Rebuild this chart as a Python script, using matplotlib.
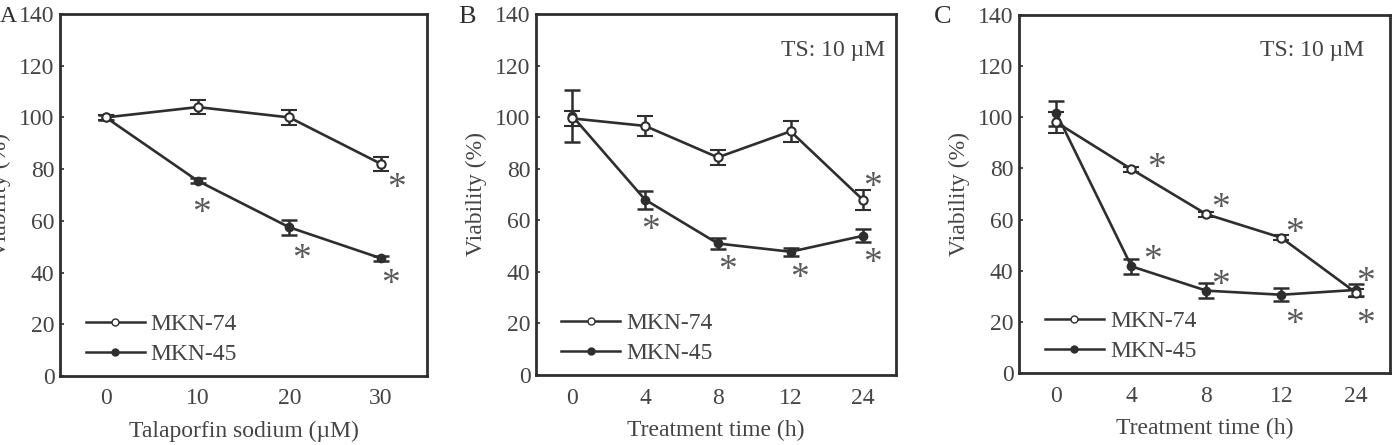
import matplotlib
matplotlib.use("Agg")
import matplotlib.pyplot as plt
from matplotlib.lines import Line2D

plt.rcParams['font.family'] = ['Liberation Serif', 'DejaVu Serif']

# ---- data ----
a_labels = ["0", "10", "20", "30"]
a_mkn74 = [100, 104, 100, 82]
a_mkn74_err = [1, 2.6, 2.8, 2.8]
a_mkn45 = [100, 75.5, 57.5, 45.5]
a_mkn45_err = [1, 1, 3, 1]
a_star_x = [3.17, 1.04, 2.13, 3.1]
a_star_y = [75, 65.5, 47.5, 38]

b_labels = ["0", "4", "8", "12", "24"]
b_mkn74 = [99.5, 96.6, 84.4, 94.5, 67.8]
b_mkn74_err = [3, 3.9, 2.9, 4, 3.9]
b_mkn45 = [100.4, 68, 51, 47.8, 54]
b_mkn45_err = [10, 3.5, 2, 1.5, 2.5]
b_star_x = [4.13, 1.08, 2.13, 3.12, 4.13]
b_star_y = [75.5, 58.5, 43.3, 40, 46]

c_labels = ["0", "4", "8", "12", "24"]
c_mkn74 = [98, 79.7, 62.1, 52.9, 31.3]
c_mkn74_err = [4, 1, 1, 1, 1.5]
c_mkn45 = [101.5, 41.7, 32.2, 30.6, 32.5]
c_mkn45_err = [5, 3, 3, 2.5, 2.5]
c_star_x = [1.34, 2.19, 3.18, 4.12, 1.28, 2.19, 3.17, 4.13]
c_star_y = [82.5, 67, 57, 38, 46.5, 37, 21.5, 21.5]

W, H = 1393, 445
fig = plt.figure(figsize=(W / 100, H / 100), dpi=100)
dark = '#2e2e2e'
txt = '#444444'
FS = 17


def px_axes(l, r, t, b):
    return fig.add_axes([l / W, (H - b) / H, (r - l) / W, (b - t) / H])


def draw(ax, labels, s74, e74, s45, e45, sx, sy, xlabel, xr, ylab=True, ts=None):
    x = list(range(len(labels)))
    ax.errorbar(x, s45, yerr=e45, color=dark, lw=1.9, marker='o', ms=6,
                mfc=dark, mec=dark, capsize=6, capthick=1.8, elinewidth=1.8, zorder=3)
    ax.errorbar(x, s74, yerr=e74, color=dark, lw=1.9, marker='o', ms=6,
                mfc='white', mec=dark, mew=1.5, capsize=6, capthick=1.8,
                elinewidth=1.8, zorder=4)
    for xx, yy in zip(sx, sy):
        ax.annotate('*', (xx, yy), xytext=(0, -5), textcoords='offset points',
                    fontsize=27, color='#5a5a5a', ha='center', va='center')
    ax.set_xlim(-0.5, xr)
    ax.set_ylim(0, 140)
    ax.set_yticks(range(0, 141, 20))
    ax.set_xticks(x)
    ax.set_xticklabels(labels)
    ax.tick_params(axis='y', direction='in', length=3, width=1.2, color=dark,
                   labelsize=FS, labelcolor=txt, pad=4)
    ax.tick_params(axis='x', length=0, labelsize=FS, labelcolor=txt, pad=9)
    for s in ax.spines.values():
        s.set_linewidth(2)
        s.set_color(dark)
    ax.set_xlabel(xlabel, fontsize=FS, color=txt, labelpad=8)
    if ylab:
        ax.set_ylabel('Viability (%)', fontsize=FS, color=txt, labelpad=6)
    if ts is not None:
        ax.text(ts, 0.90, 'TS: 10 µM', transform=ax.transAxes, fontsize=FS,
                color=txt, ha='right', va='center')
    h74 = Line2D([], [], color=dark, lw=1.8, marker='o', ms=5, mfc='white', mec=dark)
    h45 = Line2D([], [], color=dark, lw=1.8, marker='o', ms=5, mfc=dark, mec=dark)
    ax.legend([h74, h45], ['MKN-74', 'MKN-45'], loc='lower left',
              bbox_to_anchor=(0.07, 0.03), frameon=False, fontsize=FS,
              handlelength=2.5, handletextpad=0.25, labelspacing=0.35,
              borderpad=0, borderaxespad=0, labelcolor=txt)


axA = px_axes(60, 427, 14, 376)
draw(axA, a_labels, a_mkn74, a_mkn74_err, a_mkn45, a_mkn45_err,
     a_star_x, a_star_y, 'Talaporfin sodium (µM)', 3.5)
axB = px_axes(536, 896, 14, 375)
draw(axB, b_labels, b_mkn74, b_mkn74_err, b_mkn45, b_mkn45_err,
     b_star_x, b_star_y, 'Treatment time (h)', 4.45, ts=0.97)
axC = px_axes(1019, 1390, 15, 373)
draw(axC, c_labels, c_mkn74, c_mkn74_err, c_mkn45, c_mkn45_err,
     c_star_x, c_star_y, 'Treatment time (h)', 4.45, ts=0.93)

fig.text(458 / W, 1 - 17 / H, 'B', fontsize=19, color=dark, va='center', ha='left')
fig.text(934 / W, 1 - 17 / H, 'C', fontsize=19, color=dark, va='center', ha='left')
fig.text(0 / W, 1 - 17 / H, 'A', fontsize=17, color=dark, va='center', ha='left')

fig.savefig('out.png', dpi=100)
